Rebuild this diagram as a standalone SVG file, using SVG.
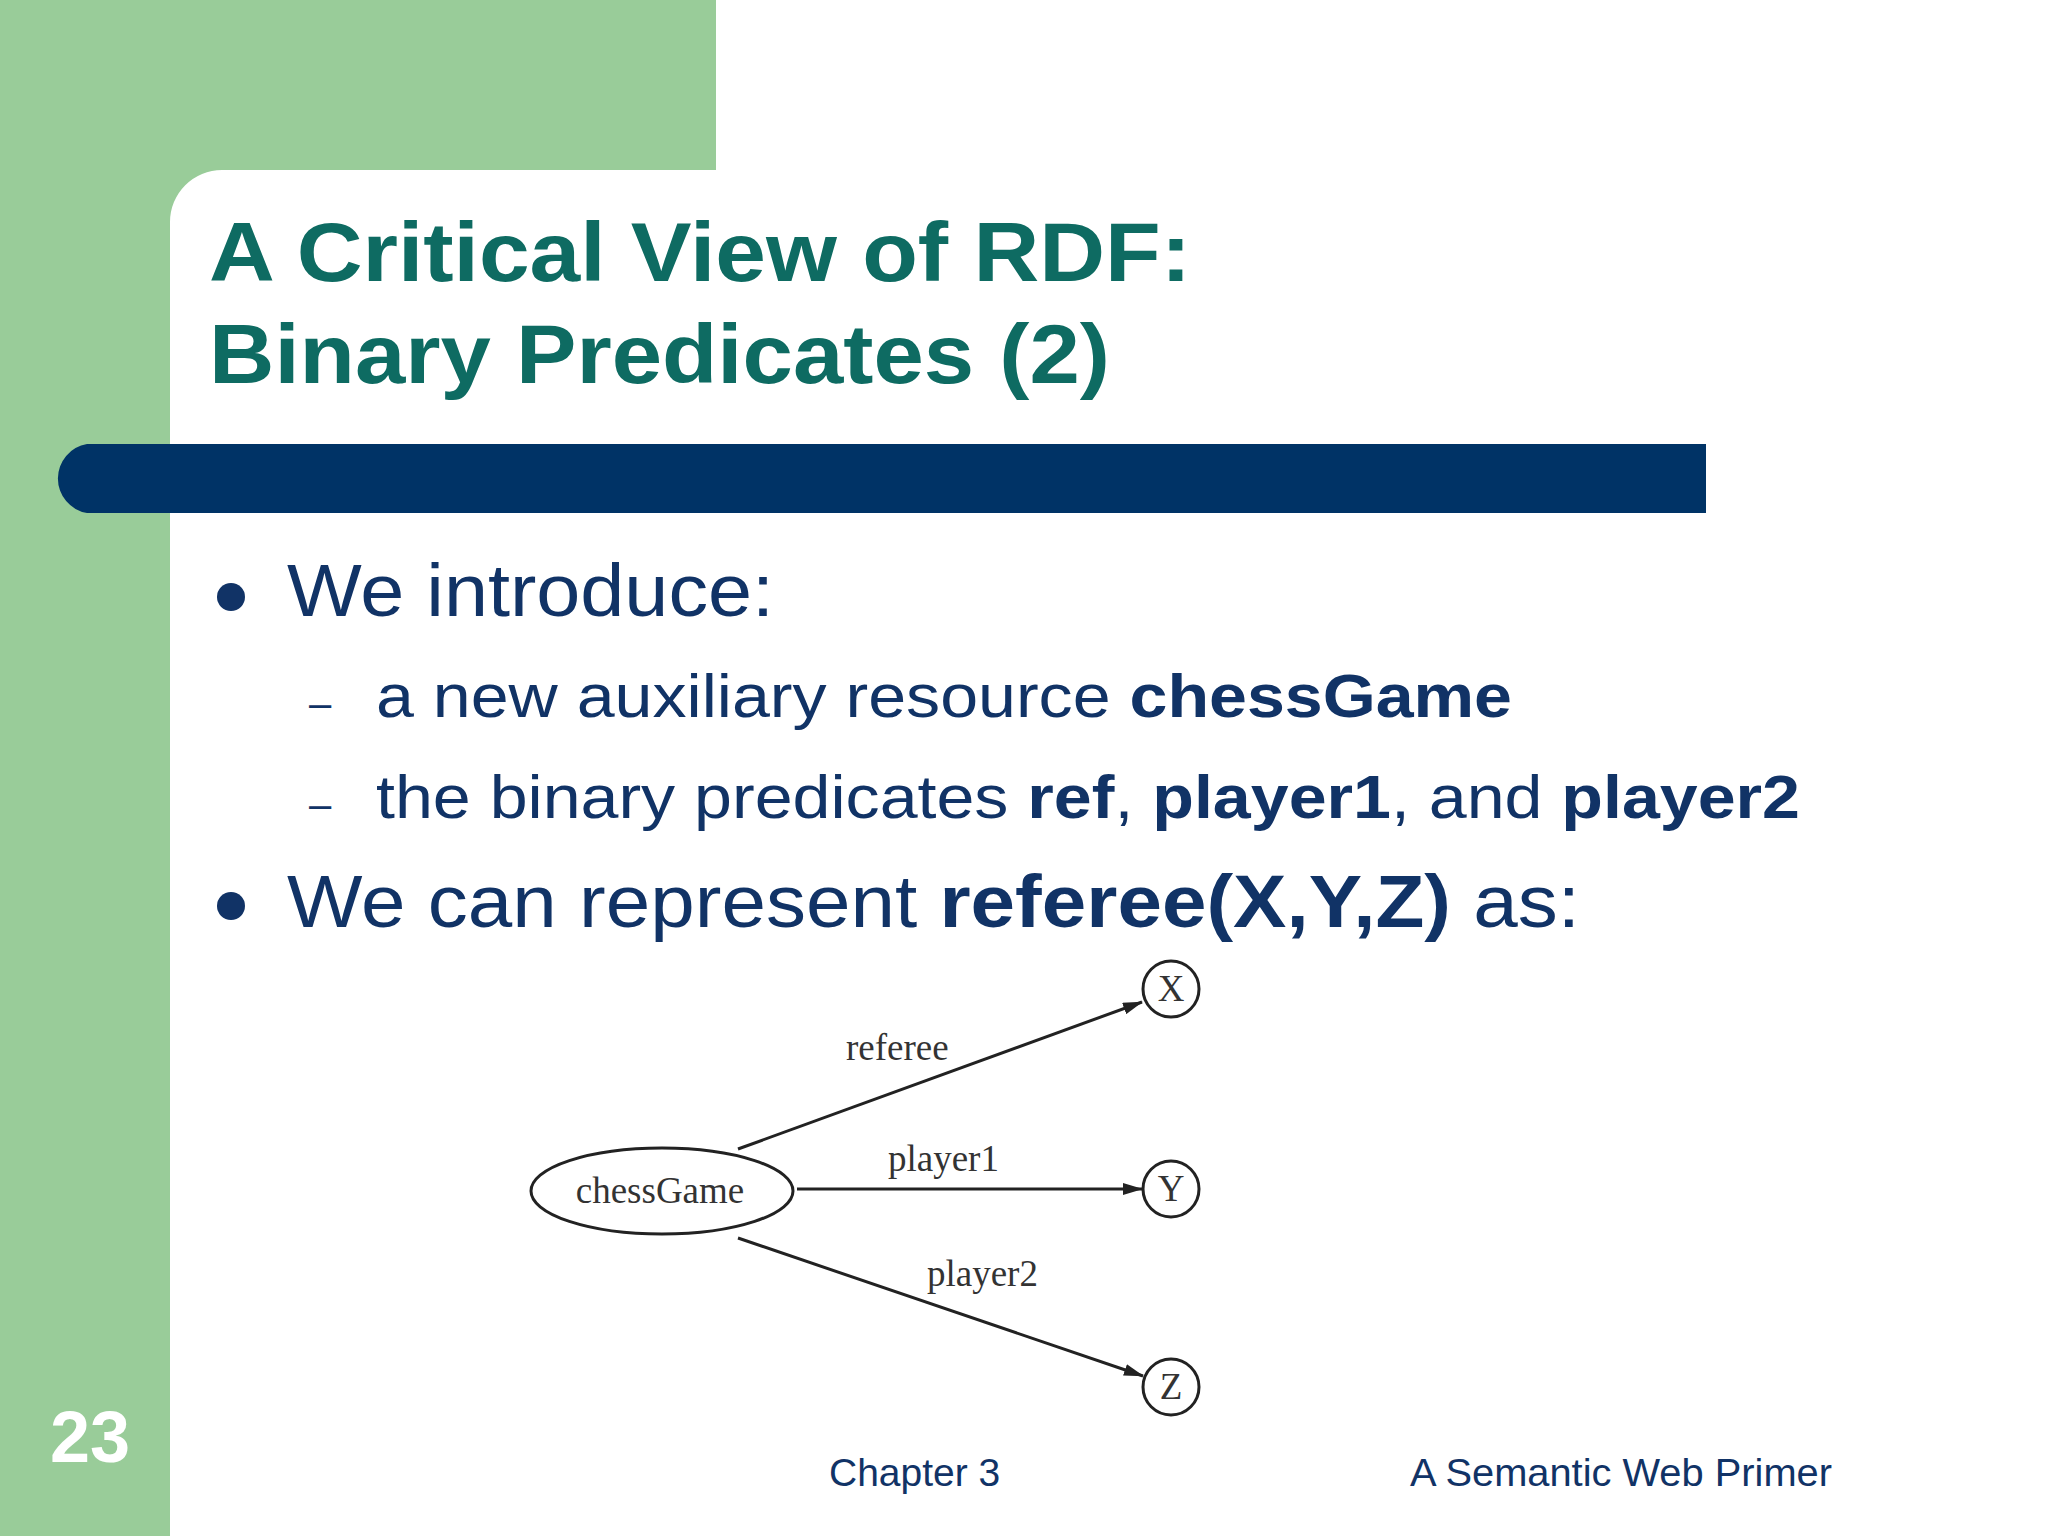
<svg xmlns="http://www.w3.org/2000/svg" width="2048" height="1536" viewBox="0 0 2048 1536">
<style>
.t{font-family:"Liberation Sans",Arial,sans-serif;font-weight:bold;fill:#0E6B62;font-size:84px}
.b{font-family:"Liberation Sans",Arial,sans-serif;fill:#113366}
.s{font-family:"Liberation Serif","Times New Roman",serif;fill:#333;font-size:37px}
.e{stroke:#222;stroke-width:3;fill:none}
.f{font-family:"Liberation Sans",Arial,sans-serif;fill:#113366;font-size:39px}
</style>
<defs><marker id="a" markerWidth="20" markerHeight="12" refX="19" refY="6" orient="auto" markerUnits="userSpaceOnUse"><path d="M0,0 L20,6 L0,12 z" fill="#222"/></marker></defs>
<rect width="2048" height="1536" fill="#fff"/>
<rect x="0" y="0" width="716" height="170" fill="#99CC99"/>
<rect x="0" y="0" width="170" height="1536" fill="#99CC99"/>
<path d="M170,222 A52,52 0 0 1 222,170 L170,170 z" fill="#99CC99"/>
<text class="t" x="209" y="281" textLength="982" lengthAdjust="spacingAndGlyphs">A Critical View of RDF:</text>
<text class="t" x="209" y="383" textLength="901" lengthAdjust="spacingAndGlyphs">Binary Predicates (2)</text>
<path d="M87,444 L1706,444 L1706,513 L87,513 A35,35 0 0 1 87,444 z" fill="#003366"/>
<circle cx="231" cy="597" r="14" fill="#113366"/>
<text class="b" x="287" y="616" font-size="74" textLength="487" lengthAdjust="spacingAndGlyphs">We introduce:</text>
<text class="b" x="309" y="717" font-size="40">–</text>
<text class="b" x="376" y="717" font-size="61" textLength="1136" lengthAdjust="spacingAndGlyphs">a new auxiliary resource <tspan font-weight="bold">chessGame</tspan></text>
<text class="b" x="309" y="818" font-size="40">–</text>
<text class="b" x="376" y="818" font-size="61" textLength="1424" lengthAdjust="spacingAndGlyphs">the binary predicates <tspan font-weight="bold">ref</tspan>, <tspan font-weight="bold">player1</tspan>, and <tspan font-weight="bold">player2</tspan></text>
<circle cx="231" cy="906" r="14" fill="#113366"/>
<text class="b" x="287" y="927" font-size="74" textLength="1293" lengthAdjust="spacingAndGlyphs">We can represent <tspan font-weight="bold">referee(X,Y,Z)</tspan> as:</text>
<g id="connectors">
<line class="e" x1="738" y1="1149" x2="1142" y2="1002" marker-end="url(#a)"/>
<line class="e" x1="797" y1="1189" x2="1142" y2="1189" marker-end="url(#a)"/>
<line class="e" x1="738" y1="1238" x2="1143" y2="1376" marker-end="url(#a)"/>
<text class="s" x="846" y="1060">referee</text>
<text class="s" x="888" y="1171">player1</text>
<text class="s" x="927" y="1286">player2</text>
</g>
<g id="chessGame"><ellipse class="e" cx="662" cy="1191" rx="131" ry="43"/><text class="s" x="660" y="1203" text-anchor="middle">chessGame</text></g>
<g id="X"><circle class="e" cx="1171" cy="989" r="28"/><text class="s" x="1171" y="1001" text-anchor="middle">X</text></g>
<g id="Y"><circle class="e" cx="1171" cy="1189" r="28"/><text class="s" x="1171" y="1201" text-anchor="middle">Y</text></g>
<g id="Z"><circle class="e" cx="1171" cy="1387" r="28"/><text class="s" x="1171" y="1399" text-anchor="middle">Z</text></g>
<text x="50" y="1462" font-family="Liberation Sans,Arial,sans-serif" font-weight="bold" font-size="72" fill="#fff">23</text>
<text class="f" x="829" y="1486">Chapter 3</text>
<text class="f" x="1410" y="1486" textLength="422" lengthAdjust="spacingAndGlyphs">A Semantic Web Primer</text>
</svg>
